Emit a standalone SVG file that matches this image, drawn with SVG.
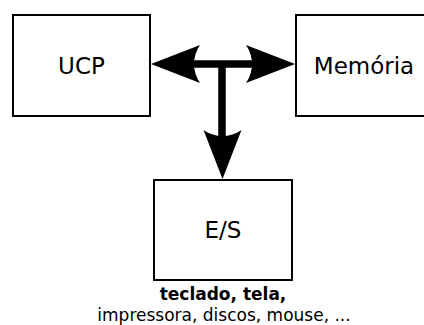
<svg xmlns="http://www.w3.org/2000/svg" width="424" height="325" viewBox="0 0 424 325">
<style>
.box{fill:#fff;stroke:#000;stroke-width:2}
.lbl{font-family:"DejaVu Sans",sans-serif;font-size:23px;fill:#000;text-anchor:middle}
.note{font-family:"DejaVu Sans",sans-serif;font-size:17px;fill:#000;text-anchor:middle}
.bar{stroke:#000;stroke-width:7.5;fill:none}
</style>
<defs>
<path id="head" d="M0,0 L-49,-19 C-41,-7.5 -41,7.5 -49,19 Z" fill="#000"/>
</defs>
<rect width="424" height="325" fill="#fff"/>
<g id="connectors">
<path class="bar" d="M190,64 H256 M222,64 V136"/>
<use href="#head" transform="translate(151,64) rotate(180)"/>
<use href="#head" transform="translate(295,64)"/>
<use href="#head" transform="translate(222.5,179) rotate(90)"/>
</g>
<g id="ucp">
<rect class="box" x="13" y="15" width="137" height="101"/>
<text class="lbl" x="81.5" y="74">UCP</text>
</g>
<g id="memoria">
<rect class="box" x="296" y="15" width="137" height="101"/>
<text class="lbl" x="364" y="74">Memória</text>
</g>
<g id="es">
<rect class="box" x="154" y="180" width="138" height="100"/>
<text class="lbl" x="223" y="238">E/S</text>
<text class="note" x="223" y="300" font-weight="bold">teclado, tela,</text>
<text class="note" x="224" y="321">impressora, discos, mouse, ...</text>
</g>
</svg>
